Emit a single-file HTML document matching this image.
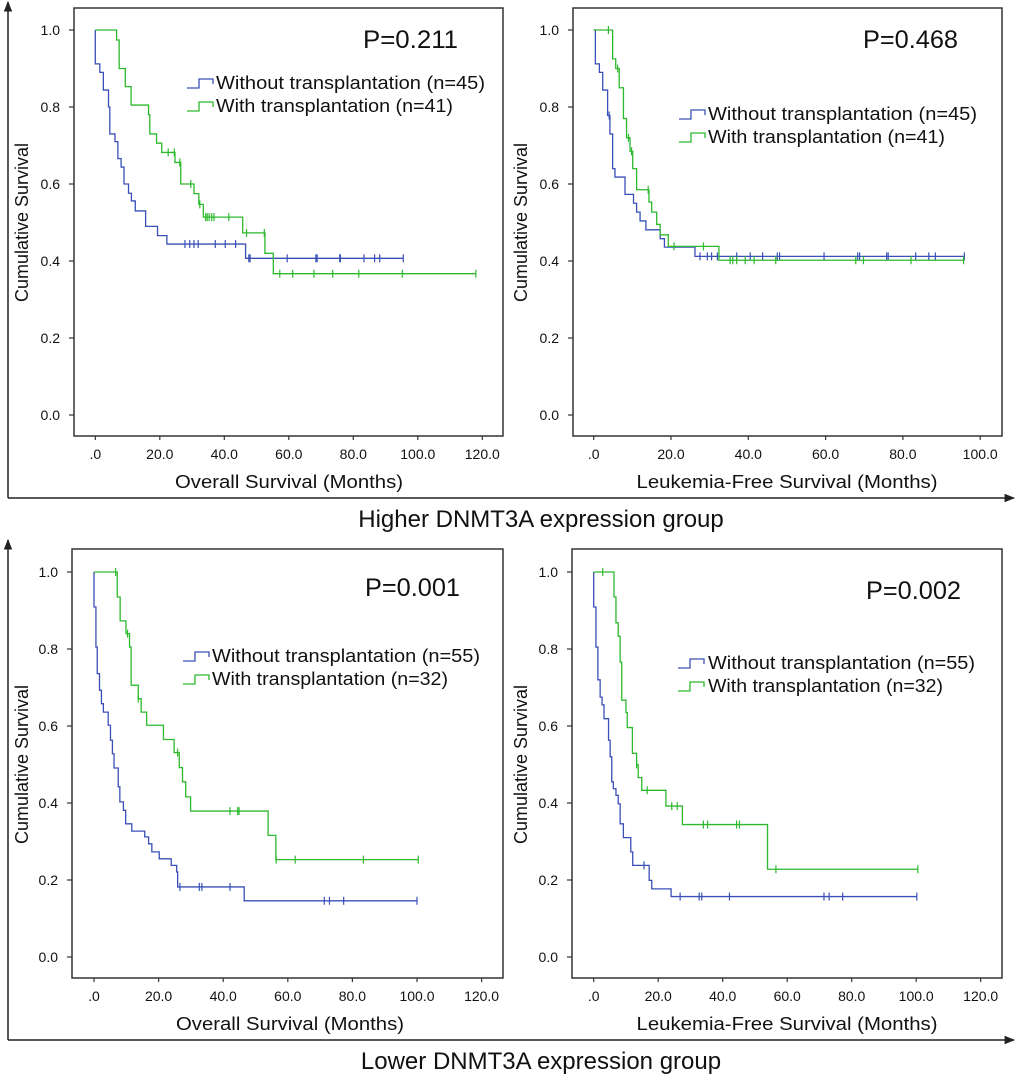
<!DOCTYPE html>
<html><head><meta charset="utf-8">
<style>
html,body{margin:0;padding:0;background:#fff;}
svg{display:block;font-family:"Liberation Sans",Arial,sans-serif;}
</style></head>
<body>
<svg id="fig" width="1020" height="1078" viewBox="0 0 1020 1078" xmlns="http://www.w3.org/2000/svg">
<defs>
<marker id="arr" viewBox="0 0 10 10" refX="9" refY="5" markerWidth="7" markerHeight="7" orient="auto"><path d="M0,1 L10,5 L0,9 z" fill="#222"/></marker>
</defs>
<g>
<line x1="8" y1="498" x2="8" y2="2" stroke="#222" stroke-width="1.5" marker-end="url(#arr)"/>
<line x1="8" y1="498" x2="1014" y2="498" stroke="#222" stroke-width="1.5" marker-end="url(#arr)"/>
<text x="541" y="527" font-size="24" text-anchor="middle" fill="#111">Higher DNMT3A expression group</text>
</g>
<g>
<line x1="8" y1="1040" x2="8" y2="540" stroke="#222" stroke-width="1.5" marker-end="url(#arr)"/>
<line x1="8" y1="1040" x2="1014" y2="1040" stroke="#222" stroke-width="1.5" marker-end="url(#arr)"/>
<text x="541" y="1069" font-size="24" text-anchor="middle" fill="#111">Lower DNMT3A expression group</text>
</g>
</svg>
<script>
// ---- Top-left: Overall survival, higher expression ----
const tlBlueT = [0,1.4,2.5,4.1,4.5,6.1,7.0,8.0,8.9,10.3,11.2,12.4,15.6,19.3,22.2,46.6];
const tlBlueS = [0.912,0.89,0.844,0.80,0.73,0.71,0.666,0.644,0.60,0.576,0.556,0.53,0.49,0.466,0.444,0.407];
const tlBlueC = [27.8,29.3,30.6,31.9,37.2,40.3,43.5,47.6,48.0,59.5,68.4,68.8,75.8,76,83.3,86.6,88.2,95.5];
const tlGreenT = [6.6,7.4,9.3,11.1,16.5,16.9,19.0,20.6,24.7,26.5,30.6,32.1,33.5,45.7,52.6,55.2];
const tlGreenS = [0.974,0.90,0.853,0.805,0.78,0.73,0.706,0.682,0.656,0.60,0.575,0.547,0.514,0.473,0.42,0.367];
const tlGreenC = [22.6,24.5,26.2,29.6,32.4,34.2,34.7,35.3,36.1,36.8,41.4,46.9,52.4,57.2,61.2,67.8,73.6,81.7,95.2,118];
// ---- Top-right: LFS, higher expression ----
const trBlueT = [0.43,1.47,2.33,3.6,4.2,4.9,5.5,8.1,10.3,11.1,12.0,13.5,17.2,18.3,26.2];
const trBlueS = [0.912,0.89,0.844,0.778,0.73,0.64,0.618,0.573,0.55,0.527,0.504,0.481,0.458,0.436,0.412];
const trBlueC = [4.0,27.5,29.4,30.5,32.0,37.0,40.5,43.7,47.5,48.1,59.6,68.3,68.8,75.8,76.2,83.3,86.7,88.4,95.9];
const trGreenT = [4.9,5.7,6.6,7.7,8.5,9.4,10.1,11.1,14.3,15.0,16.3,17.2,19.3,32.4];
const trGreenS = [0.925,0.90,0.85,0.77,0.72,0.685,0.64,0.585,0.553,0.527,0.495,0.468,0.438,0.402];
const trGreenC = [3.8,6.2,9.0,9.8,14.1,20.8,28.4,35.3,36.0,37.0,39.2,41.5,47.1,67.8,69.8,82.1,95.7];
// ---- Bottom-left: OS, lower expression ----
const blBlueT = [0,0.6,1.0,1.7,2.3,2.9,4.4,5.1,5.7,6.2,7.5,8.0,9.1,9.8,11.7,15.7,16.9,17.9,20.2,23.9,25.6,25.9,46.5];
const blBlueS = [0.909,0.805,0.736,0.693,0.658,0.636,0.602,0.563,0.528,0.491,0.442,0.403,0.381,0.346,0.327,0.312,0.294,0.273,0.255,0.238,0.221,0.182,0.146];
const blBlueC = [26.6,32.6,33.4,42.1,71.3,72.9,77.3,100];
const blGreenT = [7.2,8.1,9.9,11.0,11.5,13.7,14.6,16.3,21.5,24.8,26.4,27.4,28.4,29.9,53.9,56.3];
const blGreenS = [0.935,0.873,0.84,0.805,0.706,0.671,0.636,0.602,0.565,0.531,0.492,0.455,0.416,0.379,0.316,0.253];
const blGreenC = [6.7,10.4,13.7,25.9,42.1,44.5,44.9,56.4,62.3,83.4,100.4];
// ---- Bottom-right: LFS, lower expression ----
const brBlueT = [0,0.7,1.3,2.0,2.6,3.2,4.6,5.1,5.6,6.1,6.9,7.6,8.2,9.2,11.5,12.1,17.2,18.0,24.0];
const brBlueS = [0.909,0.805,0.72,0.675,0.655,0.619,0.563,0.52,0.455,0.437,0.42,0.398,0.346,0.31,0.273,0.238,0.199,0.177,0.157];
const brBlueC = [15.6,26.8,32.7,33.5,42.1,71.4,73.0,77.2,100.2];
const brGreenT = [6.3,6.9,7.6,8.2,8.7,10.0,10.4,12.0,13.3,13.8,14.9,22.4,27.5,53.9];
const brGreenS = [0.935,0.868,0.833,0.766,0.667,0.635,0.596,0.529,0.5,0.466,0.433,0.392,0.344,0.228];
const brGreenC = [2.8,13.3,16.6,24.2,25.9,34.0,35.3,44.3,45.2,56.5,100.5];

const yTickLabels = ["0.0","0.2","0.4","0.6","0.8","1.0"];
const xTicksOS = [0,20,40,60,80,100,120];
const xTicksLFS = [0,20,40,60,80,100];
const fmtTick = v => v===0 ? ".0" : v.toFixed(1);

const NS = "http://www.w3.org/2000/svg";
const svg = document.getElementById("fig");
const BLUE = "#3a50b8", GREEN = "#2db92d";

function mk(tag, attrs, parent){
  const e = document.createElementNS(NS, tag);
  for (const k in attrs) e.setAttribute(k, attrs[k]);
  parent.appendChild(e);
  return e;
}
function survAt(T,S,t){ let s=1; for(let i=0;i<T.length;i++){ if(T[i]<=t) s=S[i]; } return s; }

function panel(cfg){
  const g = mk("g", {}, svg);
  
  
  const xs = t => cfg.x0 + t*cfg.kx;
  const ys = s => cfg.y0 + (cfg.y1 - cfg.y0)*s;
  const fr = mk("rect", {x:cfg.fx, y:cfg.fy, width:cfg.fw, height:cfg.fh, fill:"none", stroke:"#333", "stroke-width":1.5}, g);
  
  
  // y ticks
  yTickLabels.forEach((lab,i)=>{
    const v = i*0.2, y = ys(v);
    const tk = mk("line",{x1:cfg.fx-5,y1:y,x2:cfg.fx,y2:y,stroke:"#333","stroke-width":1.2},g);
    
    
    const tx = mk("text",{x:cfg.fx-14,y:y+5,"font-size":14,"text-anchor":"end",fill:"#111"},g);
    tx.textContent = lab;
    
    
  });
  cfg.xticks.forEach(v=>{
    const x = xs(v);
    const tk = mk("line",{x1:x,y1:cfg.fy+cfg.fh,x2:x,y2:cfg.fy+cfg.fh+4,stroke:"#333","stroke-width":1.2},g);
    
    
    const tx = mk("text",{x:x,y:cfg.fy+cfg.fh+23,"font-size":14,"text-anchor":"middle",fill:"#111"},g);
    tx.textContent = fmtTick(v);
    
    
  });
  const xt = mk("text",{x:cfg.xtx,y:cfg.fy+cfg.fh+52,"font-size":18,"text-anchor":"middle",textLength:cfg.xtw,lengthAdjust:"spacingAndGlyphs",fill:"#111"},g);
  xt.textContent = cfg.xtitle;
  
  
  const cy = (cfg.y0+cfg.y1)/2;
  const yt = mk("text",{x:cfg.ytx,y:cy,"font-size":18,"text-anchor":"middle",transform:`rotate(-90 ${cfg.ytx} ${cy})`,fill:"#111"},g);
  yt.textContent = "Cumulative Survival";
  
  
  const pt = mk("text",{x:cfg.px,y:cfg.py,"font-size":25,textLength:95,lengthAdjust:"spacingAndGlyphs",fill:"#111"},g);
  pt.textContent = cfg.p;
  
  
  // series
  [[cfg.bT,cfg.bS,cfg.bC,BLUE,"without-transplant-curve"],[cfg.gT,cfg.gS,cfg.gC,GREEN,"with-transplant-curve"]].forEach(([T,S,C,col,nm])=>{
    let d = `M${xs(0)},${ys(1)}`;
    for(let i=0;i<T.length;i++){ d += ` H${xs(T[i])} V${ys(S[i])}`; }
    const last = Math.max(T[T.length-1], ...C);
    d += ` H${xs(last)}`;
    const p = mk("path",{d:d,fill:"none",stroke:col,"stroke-width":1.3},g);
    
    
    C.forEach(t=>{
      const x = xs(t), y = ys(survAt(T,S,t));
      const c = mk("line",{x1:x,y1:y-4,x2:x,y2:y+4,stroke:col,"stroke-width":1.2},g);
      
      
    });
  });
  // legend
  const L = cfg.leg;
  [[BLUE,L.y1,cfg.l1,"legend-without-transplant"],[GREEN,L.y2,cfg.l2,"legend-with-transplant"]].forEach(([col,y,lab,nm])=>{
    const lg = mk("g",{},g);
    
    
    mk("path",{d:`M${L.x},${y+5} H${L.x+12} V${y-4} H${L.x+26} V${y+1}`,fill:"none",stroke:col,"stroke-width":1.3},lg);
    const t = mk("text",{x:L.tx,y:y+6,"font-size":18,textLength:L.tw-(lab.length<28?32:0),lengthAdjust:"spacingAndGlyphs",fill:"#111"},lg);
    t.textContent = lab;
  });
}

panel({name:"panel-os-higher",fx:74,fy:8,fw:429,fh:428,x0:95.3,kx:3.225,y1:30,y0:415,xticks:xTicksOS,
  xtitle:"Overall Survival (Months)",xtx:289,xtw:228,ytx:28,p:"P=0.211",px:363,py:48,
  bT:tlBlueT,bS:tlBlueS,bC:tlBlueC,gT:tlGreenT,gS:tlGreenS,gC:tlGreenC,
  leg:{x:187,tx:216,tw:269,y1:83,y2:106},l1:"Without transplantation (n=45)",l2:"With transplantation (n=41)"});
panel({name:"panel-lfs-higher",fx:573,fy:8,fw:429,fh:428,x0:593.7,kx:3.865,y1:30,y0:415,xticks:xTicksLFS,
  xtitle:"Leukemia-Free Survival (Months)",xtx:787,xtw:301,ytx:527,p:"P=0.468",px:863,py:48,
  bT:trBlueT,bS:trBlueS,bC:trBlueC,gT:trGreenT,gS:trGreenS,gC:trGreenC,
  leg:{x:679,tx:708,tw:269,y1:114,y2:137},l1:"Without transplantation (n=45)",l2:"With transplantation (n=41)"});
panel({name:"panel-os-lower",fx:72,fy:549,fw:431,fh:429,x0:94,kx:3.23,y1:572,y0:957,xticks:xTicksOS,
  xtitle:"Overall Survival (Months)",xtx:290,xtw:228,ytx:28,p:"P=0.001",px:365,py:596,
  bT:blBlueT,bS:blBlueS,bC:blBlueC,gT:blGreenT,gS:blGreenS,gC:blGreenC,
  leg:{x:183,tx:212,tw:268,y1:656,y2:679},l1:"Without transplantation (n=55)",l2:"With transplantation (n=32)"});
panel({name:"panel-lfs-lower",fx:572,fy:549,fw:430,fh:429,x0:593.7,kx:3.225,y1:572,y0:957,xticks:xTicksOS,
  xtitle:"Leukemia-Free Survival (Months)",xtx:787,xtw:301,ytx:527,p:"P=0.002",px:866,py:599,
  bT:brBlueT,bS:brBlueS,bC:brBlueC,gT:brGreenT,gS:brGreenS,gC:brGreenC,
  leg:{x:678,tx:708,tw:267,y1:663,y2:686},l1:"Without transplantation (n=55)",l2:"With transplantation (n=32)"});
</script>
</body></html>
